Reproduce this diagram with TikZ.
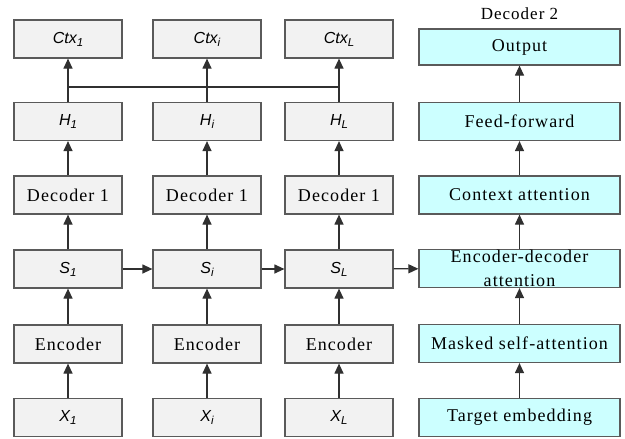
\documentclass[tikz,border=0pt]{standalone}
\usepackage{fontspec}
\setmainfont{Liberation Serif}[LetterSpace=6]
\newfontfamily\lblfont{Liberation Sans}
\usetikzlibrary{arrows.meta}
\definecolor{boxgray}{HTML}{F2F2F2}
\definecolor{boxcyan}{HTML}{CCFFFF}
\definecolor{edgegray}{HTML}{5A5A5A}
\definecolor{wiregray}{HTML}{303030}
\newcommand{\seq}[2]{{\lblfont\itshape #1\raisebox{-0.35ex}{\fontsize{11.5}{11.5}\selectfont #2}}}
\tikzset{
  cell/.style={draw=edgegray, line width=1.2pt, fill=boxgray, inner sep=0pt,
    minimum width=108pt, minimum height=38pt, font=\fontsize{16}{18}\selectfont},
  dcell/.style={cell, fill=boxcyan, minimum width=201pt, font=\fontsize{18}{22}\selectfont},
  flow/.style={draw=wiregray, line width=1.2pt, -{Triangle[length=10pt,width=9pt]}},
  wire/.style={draw=wiregray, line width=1.2pt}
}
\begin{document}
\begin{tikzpicture}[x=1pt,y=-1pt]
\useasboundingbox (0,0) rectangle (625,439);
% encoder / first decoder columns
\foreach \c/\x/\s in {1/68/1, i/207/i, L/339/L}{
  \node[cell] (ctx\c) at (\x,39) {\seq{Ctx}{\s}};
  \node[cell] (h\c)   at (\x,121.5) {\seq{H}{\s}};
  \node[cell, font=\fontsize{18}{22}\selectfont] (dec\c) at (\x,195) {Decoder 1};
  \node[cell] (s\c)   at (\x,269) {\seq{S}{\s}};
  \node[cell, font=\fontsize{18}{22}\selectfont] (enc\c) at (\x,344) {Encoder};
  \node[cell] (x\c)   at (\x,417.5) {\seq{X}{\s}};
  \coordinate (j\c) at (\x,87);
  \draw[flow] (x\c) -- (enc\c);
  \draw[flow] (enc\c) -- (s\c);
  \draw[flow] (s\c) -- (dec\c);
  \draw[flow] (dec\c) -- (h\c);
  \draw[wire] (h\c) -- (j\c);
  \draw[flow] (j\c) -- (ctx\c);
}
\draw[wire] (j1) -- (jL);
% second decoder
\node[dcell, minimum height=36pt] (out) at (519.5,47) {Output};
\node[dcell] (ff)  at (519.5,121.5) {Feed-forward};
\node[dcell] (ca)  at (519.5,195) {Context attention};
\node[dcell] (ed)  at (519.5,268.5) {};
\node[font=\fontsize{18}{24}\selectfont, align=center, inner sep=0pt] (edtext) at (ed.center)
  {Encoder-decoder\\attention};
\node[dcell] (msa) at (519.5,343.5) {Masked self-attention};
\node[dcell] (te)  at (519.5,417.5) {Target embedding};
\node[font=\fontsize{17}{18}\selectfont, inner sep=0pt] (d2) at (519.5,14) {Decoder 2};
\draw[flow] (te) -- (msa);
\draw[flow] (msa) -- (ed);
\draw[flow] (ed) -- (ca);
\draw[flow] (ca) -- (ff);
\draw[flow] (ff) -- (out);
% recurrent state chain
\draw[flow] (s1) -- (si);
\draw[flow] (si) -- (sL);
\draw[flow] (sL) -- (ed);
\end{tikzpicture}
\end{document}
